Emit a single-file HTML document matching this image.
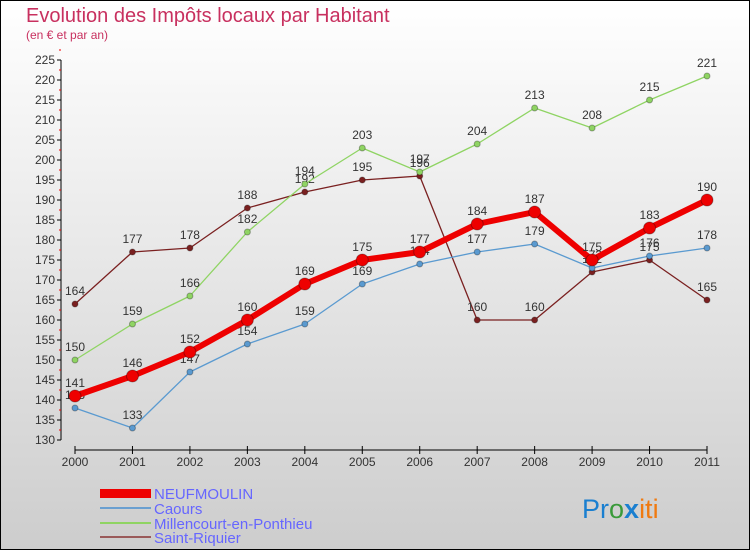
<!DOCTYPE html>
<html><head><meta charset="utf-8"><style>
body{margin:0}
#c{width:750px;height:550px;position:relative;font-family:"Liberation Sans",sans-serif}
</style></head><body>
<div id="c">
<svg id="s" width="750" height="550" xmlns="http://www.w3.org/2000/svg">
<defs><linearGradient id="bg" x1="0" y1="0" x2="0" y2="1"><stop offset="0" stop-color="#ffffff"/><stop offset="1" stop-color="#cdcdcd"/></linearGradient></defs>
<rect x="0.5" y="0.5" width="749" height="549" fill="url(#bg)" stroke="#000"/>
<text x="26" y="22" font-size="20" fill="#c8305f">Evolution des Impôts locaux par Habitant</text>
<text x="26" y="39" font-size="12" fill="#c8305f">(en € et par an)</text>
<g id="axes"></g><g id="series"></g>
<g>
<rect x="100" y="489" width="51" height="9" fill="#e00"/>
<text x="154" y="499" font-size="15" fill="#6666ff">NEUFMOULIN</text>
<line x1="100" y1="508" x2="151" y2="508" stroke="#6a9fd0" stroke-width="2"/>
<text x="154" y="514" font-size="15" fill="#6666ff">Caours</text>
<line x1="100" y1="523" x2="151" y2="523" stroke="#8fd463" stroke-width="2"/>
<text x="154" y="529" font-size="15" fill="#6666ff">Millencourt-en-Ponthieu</text>
<line x1="100" y1="537" x2="151" y2="537" stroke="#9a5a5a" stroke-width="2"/>
<text x="154" y="543" font-size="15" fill="#6666ff">Saint-Riquier</text>
</g>
<text x="582" y="518" font-size="27"><tspan fill="#1a7fd0">Pr</tspan><tspan fill="#3a9a3a">o</tspan><tspan fill="#1a7fd0" font-weight="bold">x</tspan><tspan fill="#f07a10">iti</tspan></text>
</svg></div>
<script>
const years=[2000,2001,2002,2003,2004,2005,2006,2007,2008,2009,2010,2011];
const yTicks=[130,135,140,145,150,155,160,165,170,175,180,185,190,195,200,205,210,215,220,225];
const neufmoulin=[141,146,152,160,169,175,177,184,187,175,183,190];
const caours=[138,133,147,154,159,169,174,177,179,173,176,178];
const millencourt=[150,159,166,182,194,203,197,204,213,208,215,221];
const saintRiquier=[164,177,178,188,192,195,196,160,160,172,175,165];
const NS="http://www.w3.org/2000/svg";
const xS=i=>75+i*(632/11);
const yS=v=>440-(v-130)*4;
function mk(t,a,p){const e=document.createElementNS(NS,t);for(const k in a)e.setAttribute(k,a[k]);p.appendChild(e);return e;}
const ax=document.getElementById('axes');
let l=mk('line',{x1:61,y1:yS(225),x2:61,y2:yS(130),stroke:'#000'},ax);


yTicks.forEach(v=>{
 mk('line',{x1:57,y1:yS(v),x2:61,y2:yS(v),stroke:'#000'},ax);
 mk('line',{x1:59,y1:yS(v)-10,x2:61,y2:yS(v)-10,stroke:'#e00'},ax);
 const t=mk('text',{x:55,y:yS(v)+4,'font-size':12,fill:'#333','text-anchor':'end'},ax);
 t.textContent=v;
 
 
});
l=mk('line',{x1:75,y1:450,x2:707,y2:450,stroke:'#000'},ax);


years.forEach((y,i)=>{
 mk('line',{x1:xS(i),y1:446,x2:xS(i),y2:454,stroke:'#000'},ax);
 const t=mk('text',{x:xS(i),y:466,'font-size':12,fill:'#333','text-anchor':'middle'},ax);
 t.textContent=y;
 
 
});
const sg=document.getElementById('series');
function draw(vals,color,w,r,name){
 const g=mk('g',{},sg);
 
 
 const pl=mk('polyline',{points:vals.map((v,i)=>xS(i)+','+yS(v)).join(' '),fill:'none',stroke:color,'stroke-width':w,'stroke-linejoin':'round'},g);
 
 
 vals.forEach((v,i)=>{
  const c=mk('circle',{cx:xS(i),cy:yS(v),r:r,fill:color,stroke:'rgba(0,0,0,0.3)'},g);
  
  
  const t=mk('text',{x:xS(i),y:yS(v)-9,'font-size':12,fill:'#333','text-anchor':'middle'},g);
  t.textContent=v;
  
  
 });
}
draw(saintRiquier,'#7a2020',1.3,3,'saint-riquier');
draw(millencourt,'#8fd463',1.3,3,'millencourt');
draw(caours,'#5a9ad0',1.3,3,'caours');
draw(neufmoulin,'#ee0000',6,6,'neufmoulin');
</script>
</body></html>
